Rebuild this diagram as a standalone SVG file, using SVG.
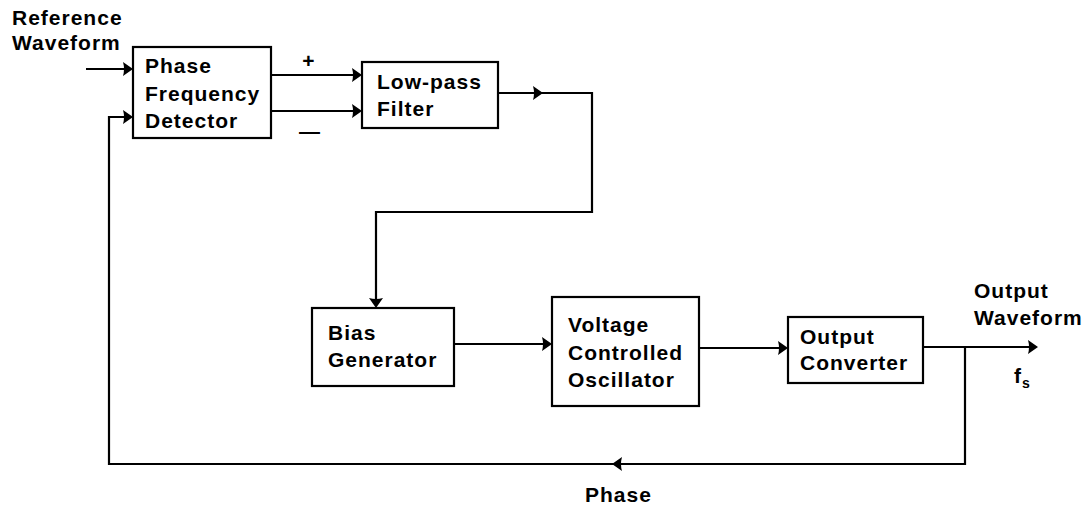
<svg xmlns="http://www.w3.org/2000/svg" xmlns:xlink="http://www.w3.org/1999/xlink" width="1089" height="509" viewBox="0 0 1089 509">
<style>
  .box { fill: #fff; stroke: #000; stroke-width: 2.2; }
  .wire { fill: none; stroke: #000; stroke-width: 2.2; stroke-linejoin: miter; }
  .ah { fill: #000; }
  text { font-family: "Liberation Sans", Arial, sans-serif; font-weight: bold; font-size: 21px; letter-spacing: 1px; fill: #000; }
</style>
<defs>
  <path id="ah" class="ah" d="M0,0 L-10,-7 Q-8,0 -10,7 Z"/>
</defs>
<rect width="1089" height="509" fill="#fff"/>

<g id="connectors">
  <!-- reference input -->
  <line class="wire" x1="86" y1="69" x2="125" y2="69"/>
  <use xlink:href="#ah" transform="translate(133,69)"/>
  <!-- plus -->
  <line class="wire" x1="271" y1="75" x2="355" y2="75"/>
  <use xlink:href="#ah" transform="translate(362,75)"/>
  <!-- minus -->
  <line class="wire" x1="271" y1="111" x2="355" y2="111"/>
  <use xlink:href="#ah" transform="translate(362,111)"/>
  <!-- LPF to bias -->
  <polyline class="wire" points="498,93 592,93 592,212 376,212 376,300"/>
  <use xlink:href="#ah" transform="translate(543,93)"/>
  <use xlink:href="#ah" transform="translate(376,308) rotate(90)"/>
  <!-- bias to VCO -->
  <line class="wire" x1="454" y1="344" x2="545" y2="344"/>
  <use xlink:href="#ah" transform="translate(552,344)"/>
  <!-- VCO to OC -->
  <line class="wire" x1="699" y1="348" x2="780" y2="348"/>
  <use xlink:href="#ah" transform="translate(788,348)"/>
  <!-- output -->
  <line class="wire" x1="923" y1="347" x2="1030" y2="347"/>
  <use xlink:href="#ah" transform="translate(1038,347)"/>
  <!-- feedback -->
  <polyline class="wire" points="965,347 965,464 109,464 109,117 125,117"/>
  <use xlink:href="#ah" transform="translate(133,117)"/>
  <use xlink:href="#ah" transform="translate(612,464) rotate(180)"/>
</g>

<g id="pfd">
  <rect class="box" x="133" y="47" width="138" height="91"/>
  <text x="145" y="73">Phase</text>
  <text x="145" y="100.5">Frequency</text>
  <text x="145" y="128">Detector</text>
</g>

<g id="lpf">
  <rect class="box" x="362" y="62" width="136" height="66"/>
  <text x="377" y="89">Low-pass</text>
  <text x="377" y="116">Filter</text>
</g>

<g id="bias">
  <rect class="box" x="312" y="308" width="142" height="78"/>
  <text x="328" y="340">Bias</text>
  <text x="328" y="367">Generator</text>
</g>

<g id="vco">
  <rect class="box" x="552" y="297" width="147" height="109"/>
  <text x="568" y="332">Voltage</text>
  <text x="568" y="360">Controlled</text>
  <text x="568" y="387">Oscillator</text>
</g>

<g id="oc">
  <rect class="box" x="788" y="317" width="135" height="66"/>
  <text x="800" y="344">Output</text>
  <text x="800" y="370">Converter</text>
</g>

<g id="labels">
  <text x="12" y="25">Reference</text>
  <text x="12" y="50">Waveform</text>
  <text x="309" y="68" text-anchor="middle" font-size="18">+</text>
  <text x="310" y="138" text-anchor="middle" font-size="17" letter-spacing="0">—</text>
  <text x="974" y="298">Output</text>
  <text x="974" y="325">Waveform</text>
  <text x="1014" y="383" letter-spacing="0">f<tspan font-size="14" dy="5">s</tspan></text>
  <text x="585" y="502">Phase</text>
</g>
</svg>
